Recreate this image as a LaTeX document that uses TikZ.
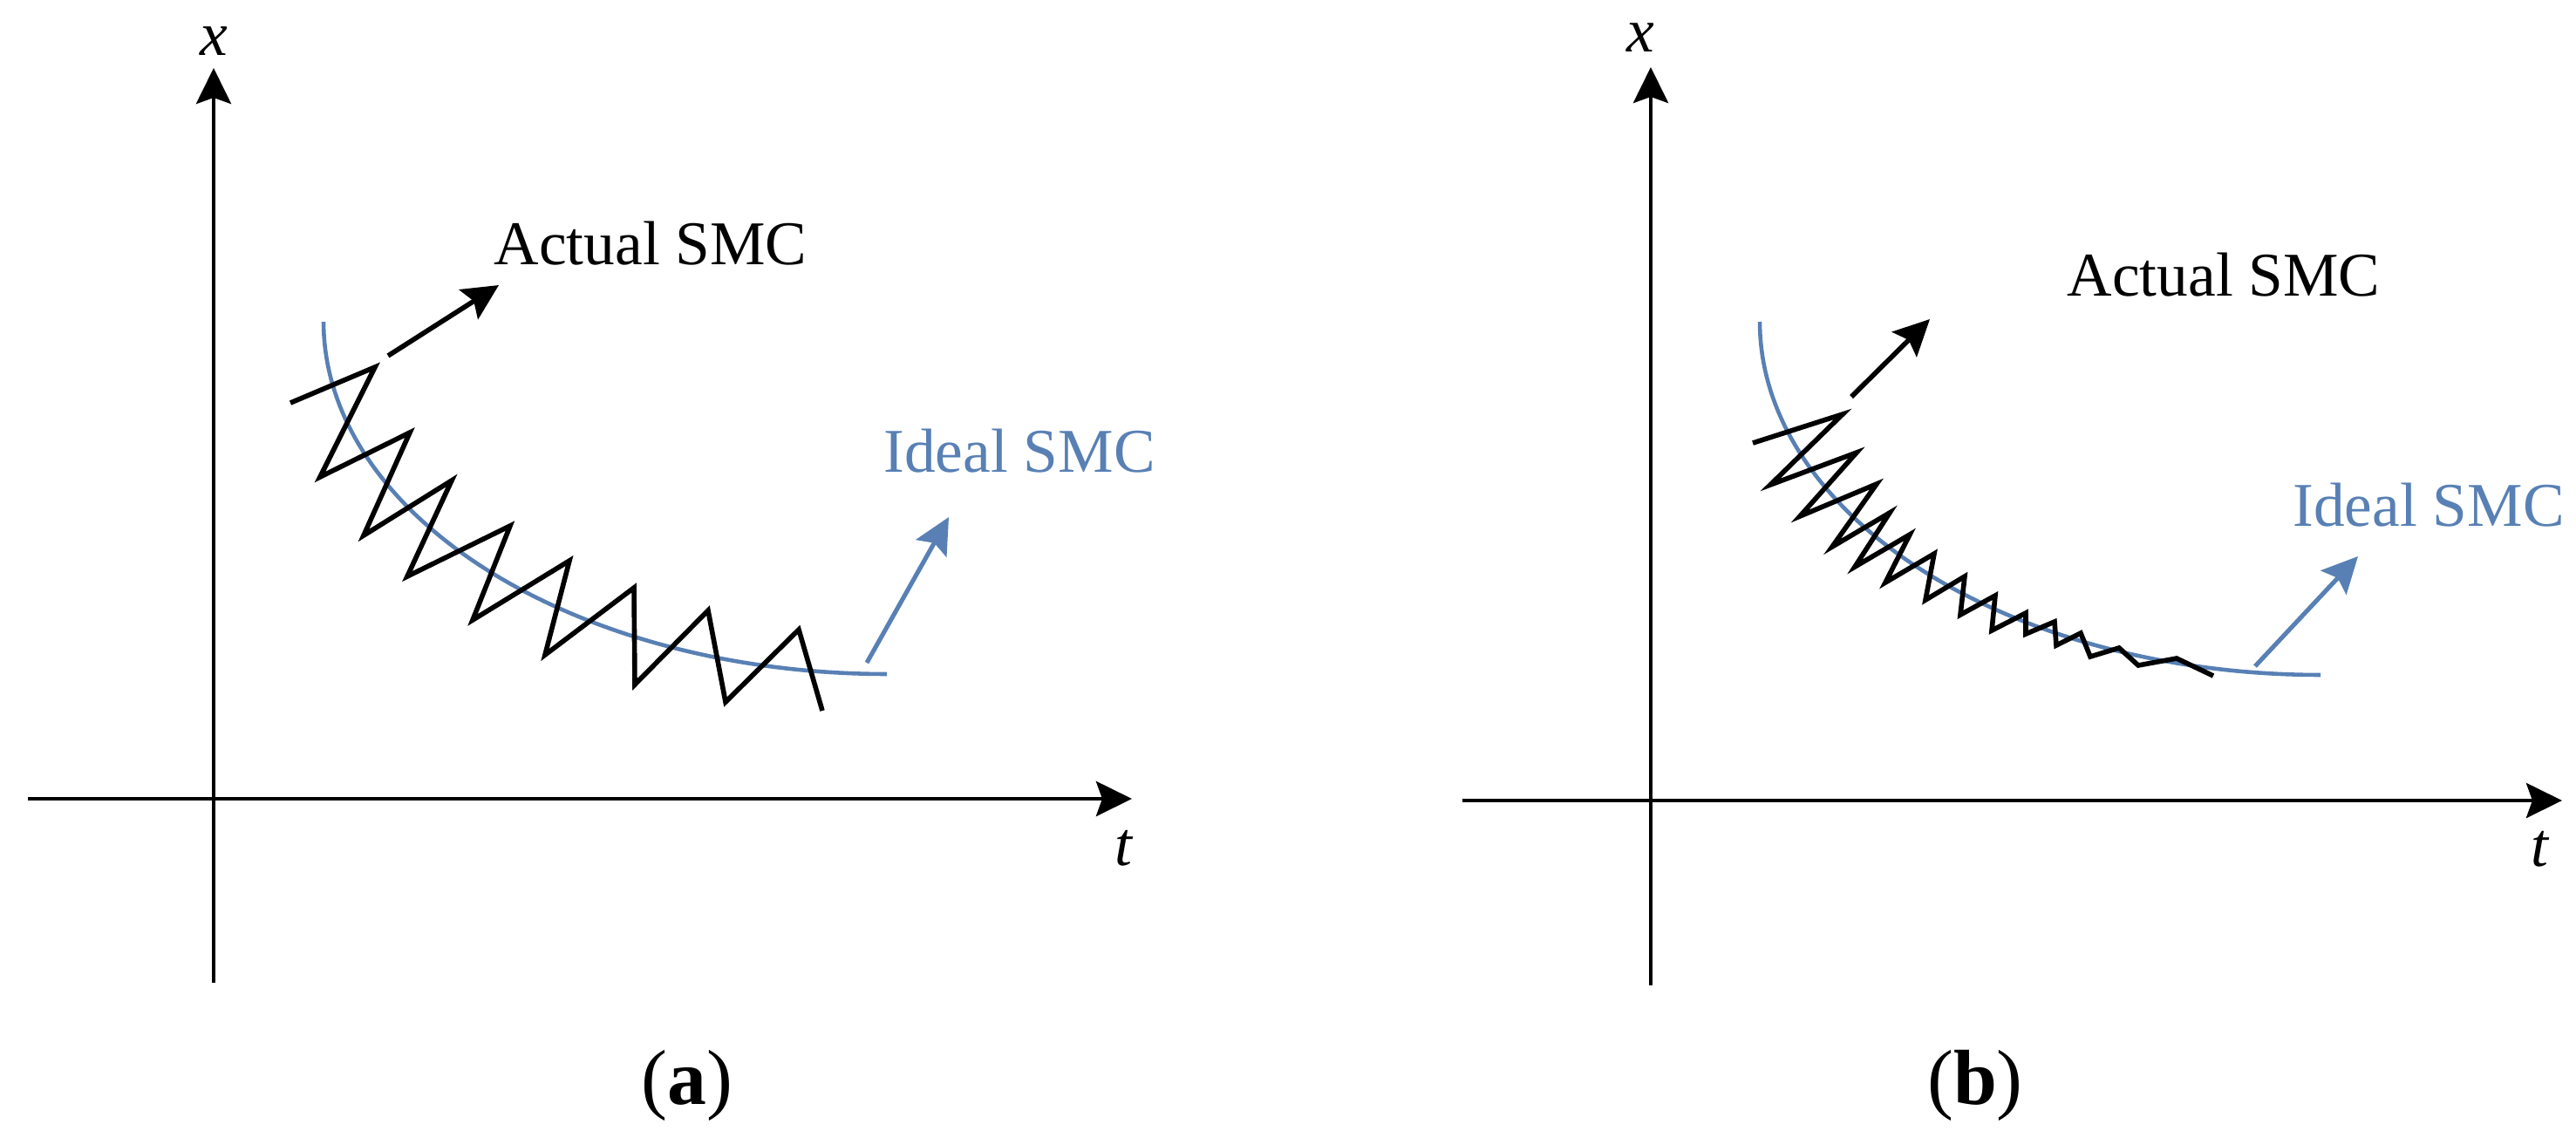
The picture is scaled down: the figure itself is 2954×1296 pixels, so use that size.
\documentclass[tikz,border=0pt]{standalone}
\usepackage{fontspec}
\setmainfont{Liberation Serif}
\usetikzlibrary{arrows.meta}
\definecolor{smcblue}{RGB}{88,128,180}
\tikzset{
  mytip/.style={-{Stealth[length=0.41cm,width=0.40cm,inset=0.07cm]}},
  axisline/.style={line width=1.3pt, mytip},
  zig/.style={line width=1.6pt, line join=miter, miter limit=6},
  ideal/.style={line width=1.3pt, smcblue},
  bluearrow/.style={line width=1.45pt, smcblue, mytip},
  blackarrow/.style={line width=1.6pt, mytip},
  lab/.style={inner sep=0pt, font=\fontsize{20.3}{24}\selectfont},
  axlab/.style={inner sep=0pt, anchor=base, font=\fontsize{20.3}{24}\selectfont\itshape},
  captext/.style={inner sep=0pt, anchor=base, font=\fontsize{25.5}{30}\selectfont}
}
\begin{document}
\begin{tikzpicture}[x=0.01cm, y=-0.01cm]
\useasboundingbox (0,0) rectangle (2954,1296);
\fill[white] (0,0) rectangle (2954,1296);

% ---------- panel (a) ----------
\coordinate (ax0) at (32,916);   \coordinate (ax1) at (1298,916);
\coordinate (ay0) at (245,1127); \coordinate (ay1) at (245,78);
\draw[axisline] (ax0) -- (ax1);
\draw[axisline] (ay0) -- (ay1);
\node[axlab] (xa) at (245,63) {x};
\node[axlab] (ta) at (1288,992) {t};

\draw[ideal] plot[domain=180:90, samples=80] ({1017+646*cos(\x)}, {369+404*sin(\x)});

\draw[zig] (333,462) -- (430,421) -- (367,547) -- (470,496) -- (417,614) -- (518,551)
  -- (467,661) -- (585,603) -- (542,711) -- (653,643) -- (625,751) -- (727,674)
  -- (728,785) -- (812,700) -- (832,805) -- (916,722) -- (943,815);

\coordinate (aa0) at (445,408); \coordinate (aa1) at (572,327);
\draw[blackarrow] (aa0) -- (aa1);
\node[lab, anchor=base] (acta) at (746,303) {Actual SMC};

\coordinate (ia0) at (994,760); \coordinate (ia1) at (1088,593);
\draw[bluearrow] (ia0) -- (ia1);
\node[lab, anchor=base, text=smcblue] (ida) at (1169,541) {Ideal SMC};

\node[captext] (capa) at (788,1266) {(\textbf{a})};

% ---------- panel (b) ----------
\coordinate (bx0) at (1677,918); \coordinate (bx1) at (2938,918);
\coordinate (by0) at (1893,1130); \coordinate (by1) at (1893,77);
\draw[axisline] (bx0) -- (bx1);
\draw[axisline] (by0) -- (by1);
\node[axlab] (xb) at (1881,59) {x};
\node[axlab] (tb) at (2912,993) {t};

\draw[ideal] plot[domain=180:90, samples=80] ({2661+643*cos(\x)}, {369+405*sin(\x)});

\draw[zig] (2010,508) -- (2113,475) -- (2030,556) -- (2129,519) -- (2064,592) -- (2152,555)
  -- (2101,627) -- (2167,588) -- (2127,650) -- (2190,613) -- (2162,668) -- (2218,635)
  -- (2208,688) -- (2253,661) -- (2248,705) -- (2288,683) -- (2284,723) -- (2323,703)
  -- (2323,727) -- (2356,713) -- (2358,740) -- (2386,726) -- (2397,753) -- (2430,743)
  -- (2452,763) -- (2496,755) -- (2538,775);

\coordinate (ab0) at (2123,455); \coordinate (ab1) at (2213,366);
\draw[blackarrow] (ab0) -- (ab1);
\node[lab, anchor=base] (actb) at (2550,339) {Actual SMC};

\coordinate (ib0) at (2586,764); \coordinate (ib1) at (2704,638);
\draw[bluearrow] (ib0) -- (ib1);
\node[lab, anchor=base, text=smcblue] (idb) at (2785,603) {Ideal SMC};

\node[captext] (capb) at (2265,1266) {(\textbf{b})};
\end{tikzpicture}
\end{document}
